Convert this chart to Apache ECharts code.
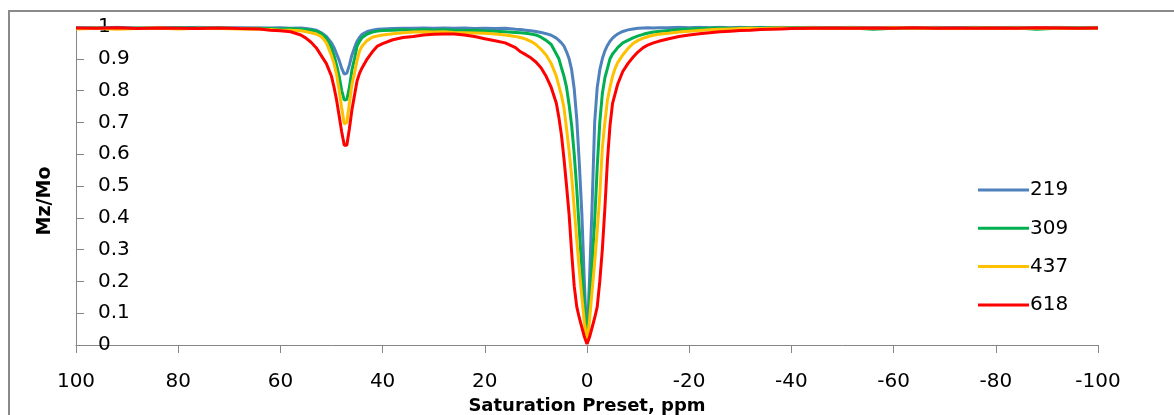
<!DOCTYPE html>
<html><head><meta charset="utf-8">
<script src="https://cdn.jsdelivr.net/npm/echarts@6/dist/echarts.min.js"></script>
<style>html,body{margin:0;padding:0;background:#fff}#c{width:1174px;height:415px}</style>
</head><body><div id="c"></div>
<script>
const ppm = [100,96,92,88,84,80,76,72,68,64,
  62,60,58,56,
  55,54,53,52,51,50,
  49.5,49,48.5,48,47.5,47,46.5,46,45.5,45,44.5,44,
  43,42,41,40,
  38,36,34,32,30,28,26,24,22,20,
  18,16,14,
  13,12,11,10,9,8,7,6,
  5.5,5,4.5,4,3.5,3,2.5,2,1.5,1,0.5,0,
  -0.5,-1,-1.5,-2,-2.5,-3,-3.5,-4,-4.5,-5,-5.5,
  -6,-7,-8,-9,-10,-11,-12,-13,-14,
  -16,-18,-20,-22,-24,-26,-28,-30,-32,-34,-36,-38,-40,
  -44,-48,-52,-56,-60,-64,-68,-72,-76,-80,-84,-88,-92,-96,-100];

const s219 = [0.998,0.997,0.999,0.996,0.998,0.997,0.999,0.997,0.998,0.997,
  0.997,0.998,0.996,0.997,
  0.995,0.993,0.99,0.982,0.97,0.95,
  0.935,0.915,0.895,0.87,0.852,0.855,0.88,0.912,0.935,0.955,0.968,0.977,
  0.986,0.99,0.993,0.994,
  0.995,0.996,0.996,0.997,0.996,0.997,0.996,0.997,0.995,0.996,
  0.995,0.996,0.993,
  0.992,0.99,0.988,0.986,0.983,0.979,0.974,0.965,
  0.958,0.95,0.94,0.922,0.9,0.865,0.805,0.71,0.57,0.41,0.19,0.005,
  0.21,0.44,0.7,0.81,0.865,0.9,0.925,0.942,0.955,0.965,0.972,
  0.978,0.986,0.991,0.994,0.996,0.997,0.998,0.997,0.998,
  0.998,0.999,0.998,0.999,0.998,0.999,0.998,0.999,0.998,0.999,0.998,0.999,0.998,
  0.999,0.998,0.999,0.998,0.999,0.997,0.999,0.998,0.999,0.998,0.999,0.998,0.999,0.998,0.999];

const s309 = [0.996,0.997,0.995,0.997,0.996,0.998,0.996,0.997,0.995,0.996,
  0.995,0.994,0.995,0.993,
  0.992,0.99,0.987,0.98,0.965,0.935,
  0.91,0.88,0.845,0.8,0.77,0.772,0.81,0.865,0.9,0.94,0.955,0.967,
  0.978,0.984,0.987,0.989,
  0.99,0.991,0.99,0.992,0.99,0.991,0.99,0.989,0.99,0.988,
  0.987,0.985,0.983,
  0.982,0.98,0.978,0.975,0.968,0.958,0.945,0.915,
  0.9,0.872,0.845,0.81,0.755,0.69,0.6,0.49,0.36,0.24,0.12,0.005,
  0.13,0.26,0.39,0.56,0.7,0.79,0.84,0.87,0.9,0.915,0.925,
  0.935,0.95,0.958,0.966,0.972,0.977,0.981,0.984,0.986,
  0.989,0.992,0.994,0.995,0.996,0.997,0.996,0.997,0.998,0.997,0.998,0.997,0.998,
  0.997,0.996,0.997,0.993,0.996,0.997,0.995,0.996,0.997,0.996,0.997,0.993,0.996,0.997,0.996];

const s437 = [0.994,0.996,0.993,0.995,0.997,0.994,0.996,0.995,0.994,0.993,
  0.992,0.99,0.99,0.988,
  0.985,0.982,0.978,0.97,0.95,0.91,
  0.885,0.85,0.8,0.745,0.695,0.7,0.76,0.82,0.855,0.895,0.925,0.94,
  0.958,0.968,0.972,0.975,
  0.979,0.982,0.984,0.985,0.984,0.985,0.983,0.982,0.981,0.98,
  0.978,0.975,0.97,
  0.967,0.962,0.955,0.945,0.93,0.912,0.885,0.845,
  0.815,0.785,0.745,0.68,0.61,0.53,0.43,0.33,0.235,0.15,0.07,0.005,
  0.08,0.17,0.26,0.36,0.47,0.62,0.7,0.77,0.81,0.845,0.87,
  0.888,0.912,0.932,0.948,0.958,0.965,0.97,0.974,0.977,
  0.98,0.984,0.987,0.989,0.991,0.993,0.994,0.995,0.996,0.995,0.996,0.997,0.996,
  0.997,0.996,0.997,0.996,0.998,0.996,0.997,0.995,0.997,0.996,0.997,0.996,0.997,0.996,0.997];

const s618 = [0.997,0.996,0.998,0.995,0.997,0.996,0.995,0.997,0.995,0.994,
  0.99,0.988,0.985,0.975,
  0.965,0.952,0.935,0.91,0.885,0.845,
  0.81,0.77,0.72,0.67,0.628,0.628,0.68,0.74,0.785,0.83,0.855,0.872,
  0.9,0.922,0.94,0.948,
  0.96,0.967,0.97,0.975,0.977,0.978,0.978,0.975,0.97,0.963,
  0.957,0.95,0.935,
  0.922,0.913,0.903,0.89,0.872,0.845,0.81,0.76,
  0.715,0.66,0.585,0.5,0.41,0.29,0.185,0.12,0.085,0.055,0.025,0.003,
  0.025,0.055,0.085,0.12,0.2,0.3,0.43,0.58,0.69,0.76,0.79,
  0.82,0.86,0.885,0.905,0.922,0.935,0.944,0.95,0.955,
  0.963,0.97,0.975,0.979,0.982,0.985,0.987,0.989,0.99,0.992,0.993,0.994,0.995,
  0.996,0.997,0.996,0.997,0.996,0.998,0.996,0.997,0.996,0.997,0.996,0.998,0.997,0.996,0.997];

const seriesNames = ['219','309','437','618'];
const seriesValues = [s219, s309, s437, s618];
const seriesColors = ['#4F81BD','#00B050','#FFC000','#FF0000'];
const xTitle = 'Saturation Preset, ppm';
const yTitle = 'Mz/Mo';

const FONT = '"DejaVu Sans", sans-serif';
const axisGray = '#868686';

const chart = echarts.init(document.getElementById('c'), null, {renderer: 'canvas'});
chart.setOption({
  animation: false,
  backgroundColor: '#fff',
  grid: {left: 76, right: 76, top: 27, bottom: 70, containLabel: false, outerBoundsMode: 'none'},
  legend: {
    orient: 'vertical', left: 973, top: 175,
    icon: 'rect', itemWidth: 51, itemHeight: 3, itemGap: 18.3,
    textStyle: {fontFamily: FONT, fontSize: 20, color: '#000', lineHeight: 20, padding: [0,0,0,-4]},
    data: seriesNames
  },
  xAxis: {
    type: 'value', inverse: true, min: -100, max: 100, interval: 20,
    axisLine: {show: true, onZero: false, lineStyle: {color: axisGray, width: 1}},
    axisTick: {show: true, length: 8, lineStyle: {color: axisGray}},
    axisLabel: {margin: 27, fontFamily: FONT, fontSize: 20, color: '#000'},
    splitLine: {show: false},
    name: xTitle, nameLocation: 'middle', nameGap: 45,
    nameTextStyle: {fontFamily: FONT, fontSize: 18, fontWeight: 'bold', color: '#000'}
  },
  yAxis: {
    type: 'value', min: 0, max: 1, interval: 0.1,
    axisLine: {show: true, onZero: false, lineStyle: {color: axisGray, width: 1}},
    axisTick: {show: true, inside: true, length: 8, lineStyle: {color: axisGray}},
    axisLabel: {inside: true, margin: 22, fontFamily: FONT, fontSize: 20, color: '#000'},
    splitLine: {show: false}
  },
  graphic: [
    {type: 'rect', silent: true, shape: {x: 9, y: 11, width: 1200, height: 450},
     style: {fill: 'none', stroke: '#8a8a8a', lineWidth: 2}},
    {type: 'text', x: 45, y: 201, rotation: Math.PI / 2,
     style: {text: yTitle, font: 'bold 19px ' + FONT, fill: '#000',
             textAlign: 'center', textVerticalAlign: 'middle', align: 'center', verticalAlign: 'middle'}}
  ],
  series: seriesNames.map((n, k) => ({
    name: n, type: 'line', showSymbol: false, symbol: 'none',
    lineStyle: {color: seriesColors[k], width: 3},
    itemStyle: {color: seriesColors[k]},
    data: ppm.map((x, i) => [x, seriesValues[k][i]])
  }))
});
</script></body></html>
